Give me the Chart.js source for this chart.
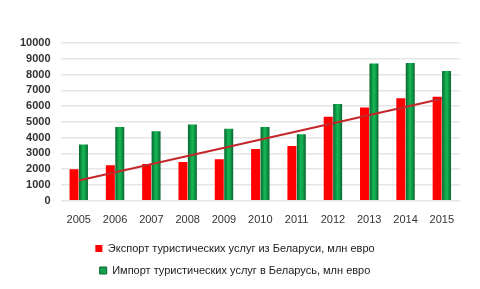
<!DOCTYPE html>
<html>
<head>
<meta charset="utf-8">
<script src="https://cdn.jsdelivr.net/npm/chart.js@4/dist/chart.umd.min.js"></script>
<style>
  html, body { margin: 0; padding: 0; background: #fff; }
  #wrap { width: 480px; height: 289px; }
</style>
</head>
<body>
<div id="wrap"><canvas id="myChart" width="480" height="289"></canvas></div>
<script>
const years = ["2005", "2006", "2007", "2008", "2009", "2010", "2011", "2012", "2013", "2014", "2015"];
const exportValues = [2000, 2250, 2330, 2460, 2630, 3290, 3480, 5320, 5920, 6500, 6600];
const importValues = [3570, 4670, 4410, 4840, 4560, 4670, 4220, 6130, 8700, 8740, 8220];
// trend line: only the two ends are drawn
const trendValues = [1290, null, null, null, null, null, null, null, null, null, 6470];
const exportLabel = "Экспорт туристических услуг из Беларуси, млн евро";
const importLabel = "Импорт туристических услуг в Беларусь, млн евро";

// cylinder-like shading across each green bar
function greenFill(ctx) {
  const el = ctx.chart.getDatasetMeta(ctx.datasetIndex).data[ctx.dataIndex];
  if (!el || !el.width) return "#14a04c";
  const x0 = el.x - el.width / 2;
  const g = ctx.chart.ctx.createLinearGradient(x0, 0, x0 + el.width, 0);
  g.addColorStop(0, "#07662f");
  g.addColorStop(0.45, "#16b553");
  g.addColorStop(0.6, "#14ad4f");
  g.addColorStop(1, "#07662f");
  return g;
}

const data = {
  labels: years,
  datasets: [
    {
      type: "line",
      label: "trend",
      data: trendValues,
      borderColor: "#c4262b",
      borderWidth: 2,
      pointRadius: 0,
      spanGaps: true,
      order: 0,
    },
    {
      label: exportLabel,
      data: exportValues,
      backgroundColor: "#ff0000",
      borderWidth: 0,
      barPercentage: 0.95,
      categoryPercentage: 0.52,
      order: 1,
    },
    {
      label: importLabel,
      data: importValues,
      backgroundColor: greenFill,
      borderWidth: 0,
      barPercentage: 0.95,
      categoryPercentage: 0.52,
      order: 1,
    },
  ],
};

const options = {
  responsive: false,
  animation: false,
  layout: {
    padding: { top: 43, right: 20, left: 10, bottom: 3 },
  },
  plugins: {
    legend: {
      position: "bottom",
      labels: {
        boxWidth: 7,
        boxHeight: 7,
        padding: 11,
        color: "#222",
        font: { size: 11 },
        filter: item => item.text !== "trend",
        generateLabels: chart => {
          const items = Chart.defaults.plugins.legend.labels.generateLabels(chart);
          items.forEach(it => {
            if (it.datasetIndex === 2) { it.fillStyle = "#14a04c"; it.strokeStyle = "#07662f"; it.lineWidth = 1; }
            if (it.datasetIndex === 1) { it.fillStyle = "#ff0000"; it.strokeStyle = "#ff0000"; it.lineWidth = 0; }
          });
          return items;
        },
      },
    },
    tooltip: { enabled: false },
  },
  scales: {
    x: {
      grid: { display: false },
      border: { display: false },
      ticks: {
        color: "#333",
        font: { size: 11 },
        padding: 5,
        maxRotation: 0,
      },
    },
    y: {
      min: 0,
      max: 10000,
      border: { display: false },
      grid: { color: "#e6e6e6", lineWidth: 1.5, drawTicks: false },
      ticks: {
        stepSize: 1000,
        autoSkip: false,
        color: "#333",
        font: { size: 11, weight: "bold" },
        padding: 10,
        callback: v => String(v),
      },
    },
  },
};

Chart.defaults.font.family = "'Liberation Sans', Arial, sans-serif";

const myChart = new Chart(document.getElementById("myChart"), {
  type: "bar",
  data: data,
  options,
});
// second pass so the gradients can use the bar positions
myChart.update();
</script>
</body>
</html>
